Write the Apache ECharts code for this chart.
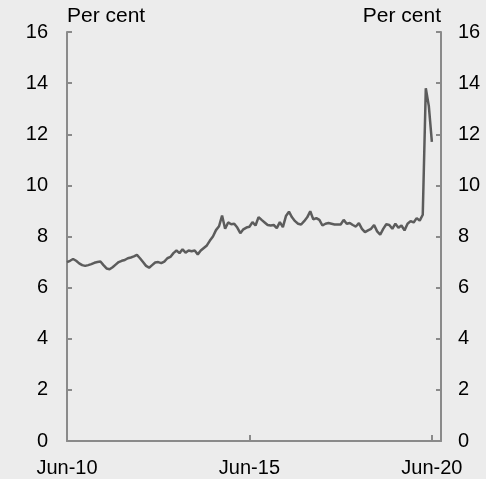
<!DOCTYPE html>
<html>
<head>
<meta charset="utf-8">
<script src="https://cdn.jsdelivr.net/npm/echarts@6/dist/echarts.min.js"></script>
<style>
html,body{margin:0;padding:0;background:#ececec;}
#c{width:486px;height:479px;}
</style>
</head>
<body>
<div id="c"></div>
<script>
// Monthly categories Jun-10 .. Sep-20 (axis extends a little past last observation)
const monthNames = ['Jan','Feb','Mar','Apr','May','Jun','Jul','Aug','Sep','Oct','Nov','Dec'];
const categories = [];
for (let y = 2010, m = 5; y < 2020 || (y === 2020 && m <= 8); ) {
  categories.push(monthNames[m] + '-' + String(y).slice(2));
  m++; if (m === 12) { m = 0; y++; }
}
const tickLabels = ['Jun-10', 'Jun-15', 'Jun-20'];
const yTicks = [0, 2, 4, 6, 8, 10, 12, 14, 16];

// Per cent, monthly Jun-10 .. Jun-20
const values = [
  7.0, 7.05, 7.12, 7.05, 6.95, 6.88, 6.85, 6.88, 6.92, 6.97,
  7.0, 7.02, 6.88, 6.75, 6.72, 6.8, 6.9, 7.0, 7.05, 7.08,
  7.15, 7.18, 7.22, 7.28, 7.15, 7.0, 6.85, 6.78, 6.88, 6.98,
  7.0, 6.96, 7.02, 7.15, 7.2, 7.35, 7.45, 7.35, 7.5, 7.37,
  7.45, 7.42, 7.45, 7.3, 7.45, 7.55, 7.65, 7.84, 8.0, 8.25,
  8.4, 8.82, 8.3, 8.55, 8.48, 8.5, 8.35, 8.13, 8.28, 8.35,
  8.38, 8.56, 8.43, 8.76, 8.65, 8.55, 8.45, 8.43, 8.45, 8.33,
  8.56, 8.37, 8.8, 8.97, 8.75, 8.6, 8.5, 8.47, 8.6, 8.75,
  8.99, 8.67, 8.72, 8.65, 8.43, 8.5, 8.53, 8.5, 8.47, 8.47,
  8.47, 8.65, 8.5, 8.53, 8.45, 8.39, 8.52, 8.3, 8.17, 8.24,
  8.3, 8.45, 8.2, 8.07, 8.3, 8.48, 8.45, 8.3, 8.5, 8.34,
  8.43, 8.24, 8.5, 8.6, 8.55, 8.72, 8.62, 8.85, 13.8, 13.1,
  11.7
];

const FONT = 'Liberation Sans, Arial, sans-serif';
const FS = 20;
const AXIS = '#8a8a8a';
const chart = echarts.init(document.getElementById('c'), null, {renderer: 'canvas'});
const showIdx = (i, v) => tickLabels.indexOf(v) >= 0;

const yCommon = {
  type: 'value', min: 0, max: 16, interval: 2,
  axisLine: {show: true, lineStyle: {color: AXIS, width: 2}},
  axisTick: {show: true, inside: true, length: 5, lineStyle: {color: AXIS, width: 2}},
  splitLine: {show: false},
  axisLabel: {color: '#000', fontSize: FS, fontFamily: FONT, margin: 19},
  name: 'Per cent', nameLocation: 'end', nameGap: 5,
};

chart.setOption({
  backgroundColor: '#ececec',
  animation: false,
  grid: {left: 67, right: 45, top: 32, bottom: 38, containLabel: false},
  xAxis: {
    type: 'category', data: categories, boundaryGap: false,
    axisLine: {lineStyle: {color: AXIS, width: 2}},
    axisTick: {inside: true, length: 6, interval: (i, v) => v === 'Jun-15' || v === 'Jun-20', lineStyle: {color: AXIS, width: 2}},
    axisLabel: {interval: showIdx, color: '#000', fontSize: FS, fontFamily: FONT, margin: 17},
    splitLine: {show: false}
  },
  yAxis: [
    Object.assign({}, yCommon, {position: 'left',
      nameTextStyle: {color: '#000', fontSize: 21, fontFamily: FONT, align: 'left', verticalAlign: 'bottom'}}),
    Object.assign({}, yCommon, {position: 'right',
      axisLabel: {color: '#000', fontSize: FS, fontFamily: FONT, margin: 17},
      nameTextStyle: {color: '#000', fontSize: 21, fontFamily: FONT, align: 'right', verticalAlign: 'bottom'}})
  ],
  series: [{
    type: 'line', data: values, yAxisIndex: 0, showSymbol: false,
    lineStyle: {color: '#5c5c5c', width: 2.5}
  }]
});
</script>
</body>
</html>
